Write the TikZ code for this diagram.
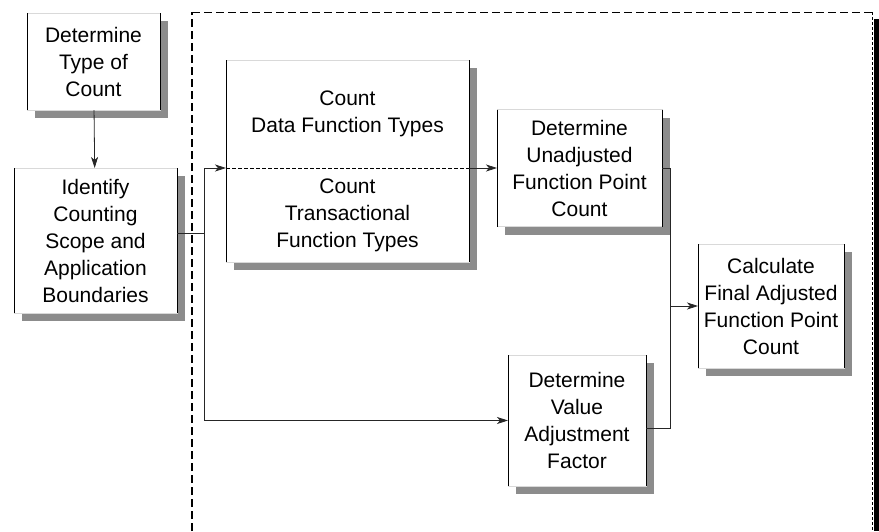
\documentclass[tikz,border=0pt]{standalone}
\usepackage{fontspec}
\setmainfont{Liberation Sans}
\usetikzlibrary{arrows.meta, positioning, shadows}

\begin{document}
\begin{tikzpicture}[
     x = 1pt, y = -1pt,
   box/.style = {fill=white, draw=gray!30, line width=0.6pt,
                 font=\fontsize{21}{27}\selectfont,
                 align=center, inner sep=2mm, outer sep=0pt,
                 drop shadow={shadow xshift=8pt, shadow yshift=-8pt,
                              fill=black!45, opacity=1},
                 append after command={
                   (\tikzlastnode.north west) edge[side] (\tikzlastnode.south west)
                   (\tikzlastnode.north east) edge[side] (\tikzlastnode.south east)}},
  side/.style = {draw=black, line width=1pt},
   lbl/.style = {font=\fontsize{21}{27}\selectfont,
                 align=center, inner sep=0pt},
   arr/.style = {draw=black!85, line width=0.8pt,
                 -{Stealth[length=11pt,width=7pt,inset=3pt]}},
   con/.style = {draw=black!85, line width=0.8pt},
   frm/.style = {dash pattern=on 8pt off 4pt}
                        ]
\useasboundingbox (0,0) rectangle (879,531);
    % frame (dashed)
\draw[frm, line width=1.5pt] (192,531) -- (192,12);
\draw[frm, line width=0.8pt] (192,12) -- (872,12);
\draw[dash pattern=on 3pt off 2pt, line width=0.8pt] (872,12) -- (872,531);
\fill (874,19) rectangle (879,531);
    % blocks (boxes)
\node (toc) [box, minimum width=133, minimum height=97]  at (93.5,61.5)
            {Determine\\Type of\\Count};
\node (scp) [box, minimum width=163, minimum height=145] at (95.5,240.5)
            {Identify\\Counting\\Scope and\\Application\\Boundaries};
\node (cft) [box, minimum width=243, minimum height=202] at (347.5,161) {};
\node (dft) [lbl] at (347.5,114) {Count\\Data Function Types};
\node (tft) [lbl] at (347.5,215) {Count\\Transactional\\Function Types};
\coordinate (split) at (347.5,168);
\draw[dash pattern=on 4pt off 2pt, line width=0.6pt]
    (cft.west |- split) -- (cft.east |- split);
\node (ufp) [box, minimum width=165, minimum height=117] at (579.5,168)
            {Determine\\Unadjusted\\Function Point\\Count};
\node (vaf) [box, minimum width=138, minimum height=131] at (577,420.5)
            {Determine\\Value\\Adjustment\\Factor};
\node (fap) [box, minimum width=146, minimum height=124] at (771,306)
            {Calculate\\Final Adjusted\\Function Point\\Count};
    % connectors
\coordinate (bus)  at (204,233);
\coordinate (join) at (670,306);
\draw[arr] (toc) -- (scp);
\draw[con] (scp.east |- bus) -- (bus);
\draw[arr] (bus) |- (cft.west |- split);
\draw[arr] (bus) |- (vaf.west);
\draw[arr] (cft.east |- ufp.west) -- (ufp.west);
\draw[con] (ufp.east) -| (join);
\draw[con] ([yshift=-7.5pt]vaf.east) -| (join);
\draw[arr] (join) -- (fap.west);
\end{tikzpicture}
\end{document}
